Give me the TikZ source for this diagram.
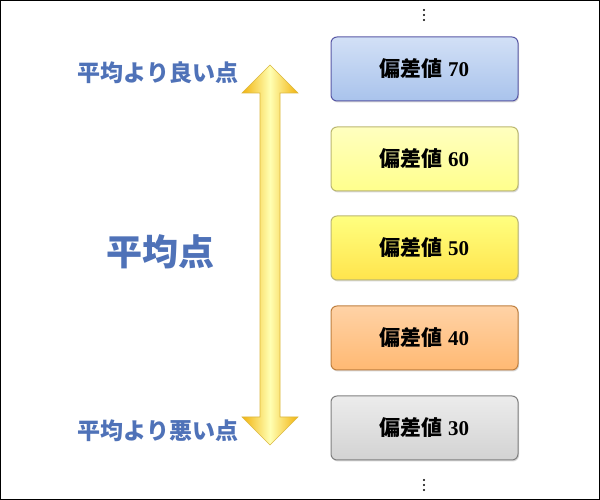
\documentclass[tikz,border=0pt]{standalone}
\usepackage{fontspec}
\newfontfamily\jp{Noto Sans CJK JP}
\setmainfont{Liberation Serif}
\usetikzlibrary{shadows}
\definecolor{lbl}{HTML}{4F72B8}
\definecolor{bA}{HTML}{D2E0F6}
\definecolor{bB}{HTML}{A9C3EC}
\tikzset{
  hbox/.style={draw=gray!70!black, line width=1pt, rounded corners=6pt, minimum width=187pt, minimum height=64pt, inner sep=0pt, font=\bfseries\fontsize{21}{23}\selectfont, drop shadow={opacity=0.3, shadow xshift=1pt, shadow yshift=-1.5pt}},
  lab/.style={text=lbl, font=\jp\bfseries\fontsize{23}{25}\selectfont},
  dotc/.style={circle, fill=black, inner sep=0pt, minimum size=2.2pt},
}
\begin{document}
\begin{tikzpicture}[x=1pt,y=1pt]
\draw[black, line width=1pt, fill=white] (0.5,0.5) rectangle (599.5,499.5);
\useasboundingbox (0,0) rectangle (600,500);
\shade[left color=yellow!50!orange!80!brown, right color=yellow!50!orange!80!brown, middle color=yellow!30, draw=yellow!40!brown, line width=0.6pt]
 (270,435) -- (298,407) -- (280,407) -- (280,83) -- (298,83) -- (270,55) -- (242,83) -- (260,83) -- (260,407) -- (242,407) -- cycle;
\node[hbox, top color=bA, bottom color=bB, draw=blue!30!gray] (b70) at (424.5,431) {{\jp 偏差値} 70};
\node[hbox, top color=yellow!25, bottom color=yellow!45, draw=yellow!40!gray] (b60) at (424.5,341) {{\jp 偏差値} 60};
\node[hbox, top color=yellow!50, bottom color=yellow!70!orange!70, draw=yellow!40!gray] (b50) at (424.5,252) {{\jp 偏差値} 50};
\node[hbox, top color=orange!35, bottom color=orange!55, draw=orange!50!gray] (b40) at (424.5,162) {{\jp 偏差値} 40};
\node[hbox, top color=gray!15, bottom color=gray!35, draw=gray] (b30) at (424.5,72) {{\jp 偏差値} 30};
\foreach \y [count=\i] in {480,485,490} \node[dotc] (t\i) at (424,\y) {};
\foreach \y [count=\i] in {10,15,20} \node[dotc] (u\i) at (424,\y) {};
\node[lab, anchor=east] (good) at (242,427) {平均より良い点};
\node[lab, anchor=east] (bad) at (242,69) {平均より悪い点};
\node[lab, font=\jp\bfseries\fontsize{36}{38}\selectfont] (avg) at (160,248) {平均点};
\end{tikzpicture}
\end{document}
